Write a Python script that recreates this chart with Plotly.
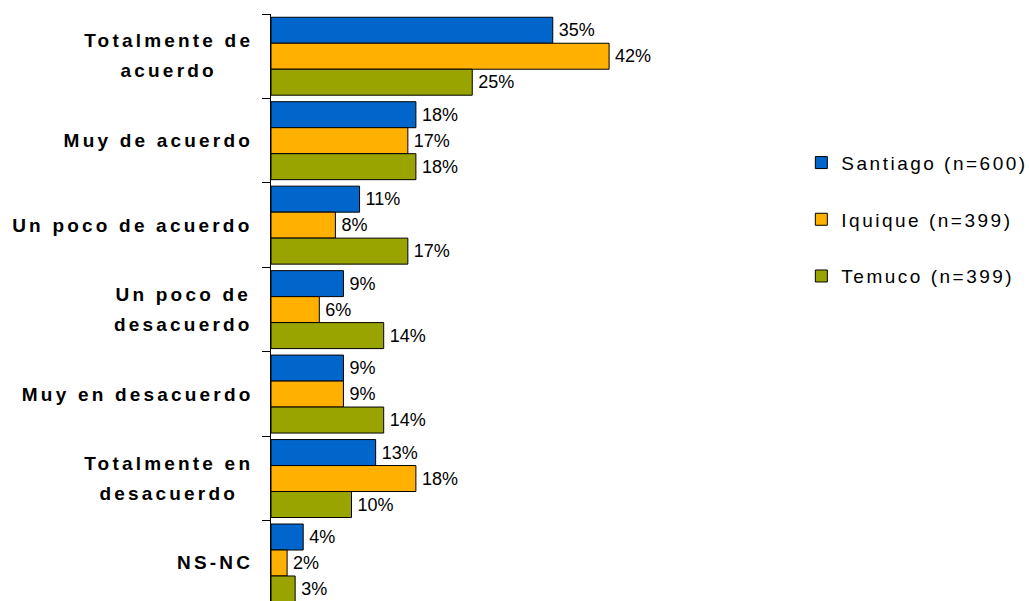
import plotly.graph_objects as go

categories = ["Totalmente de<br>acuerdo", "Muy de acuerdo", "Un poco de acuerdo",
              "Un poco de<br>desacuerdo", "Muy en desacuerdo",
              "Totalmente en<br>desacuerdo", "NS-NC"]
series_names = ["Santiago (n=600)", "Iquique (n=399)", "Temuco (n=399)"]
santiago = [35, 18, 11, 9, 9, 13, 4]
iquique = [42, 17, 8, 6, 9, 18, 2]
temuco = [25, 18, 17, 14, 14, 10, 3]
series_values = [santiago, iquique, temuco]
colors = ["#0066CC", "#FFB000", "#99A400"]

FONT = "Liberation Sans, Arial, sans-serif"
LABEL_SIZE = 19
LABEL_SPACING = 3.2  # px letter spacing of category labels

fig = go.Figure()
for name, vals, col in zip(series_names, series_values, colors):
    fig.add_trace(go.Bar(
        y=categories, x=vals, name=name, orientation="h",
        marker=dict(color=col, line=dict(color="#000000", width=1)),
        texttemplate="%{x}%", textposition="outside", cliponaxis=False,
        constraintext="none",
        textfont=dict(family=FONT, size=18, color="#000000"),
        legendgroup=name, hoverinfo="skip",
    ))

annotations = []
for cat in categories:
    lines = cat.split("<br>")
    nmax = max(len(l) for l in lines)
    annotations.append(dict(
        text="<b>" + cat + "</b>", xref="paper", yref="y", x=0, y=cat,
        xanchor="right", yanchor="middle", align="center", showarrow=False,
        xshift=-19 - (nmax * LABEL_SPACING / 2 - LABEL_SPACING),
        font=dict(family=FONT, size=LABEL_SIZE, color="#000000"),
    ))

fig.update_layout(
    width=1029, height=601, autosize=False,
    margin=dict(l=271, r=275, t=14, b=0, pad=0, autoexpand=False),
    paper_bgcolor="white", plot_bgcolor="white",
    barmode="group", bargap=0.077, bargroupgap=0,
    font=dict(family=FONT, color="#000000"),
    showlegend=True,
    legend=dict(x=1.098, y=0.779, xanchor="left", yanchor="top",
                traceorder="grouped", tracegroupgap=29,
                font=dict(family=FONT, size=19, color="#000000"),
                bgcolor="rgba(0,0,0,0)"),
    annotations=annotations,
)
fig.update_xaxes(range=[0, 60], visible=False, showgrid=False, zeroline=False)
fig.update_yaxes(range=[6.45, -0.5], showticklabels=False, showgrid=False,
                 zeroline=False, showline=True, linecolor="#000000", linewidth=1,
                 ticks="outside", tickson="boundaries", ticklen=8,
                 tickcolor="#000000", tickwidth=1)

post = """
document.body.style.margin = '0';
document.body.style.overflow = 'hidden';
var gd = document.getElementById('{plot_id}');
var LS = %s, LH = 1.58;
gd.querySelectorAll('g.annotation text.annotation-text').forEach(function(t){
  t.style.letterSpacing = LS + 'px';
  var lines = t.querySelectorAll('tspan.line');
  var n = lines.length;
  if (n > 1) {
    lines.forEach(function(ts, i){
      ts.setAttribute('dy', ((i - (n-1)/2) * LH + (n-1)/2*1.3) + 'em');
    });
  }
});
gd.querySelectorAll('g.legend text.legendtext').forEach(function(t){
  t.style.letterSpacing = '2.5px';
});
gd.querySelectorAll('g.legend [clip-path]').forEach(function(s){
  s.removeAttribute('clip-path');
});
gd.querySelectorAll('text.bartext').forEach(function(t){
  var tr = t.getAttribute('transform') || '';
  t.setAttribute('transform', 'translate(3,0) ' + tr);
});
""" % LABEL_SPACING

fig.write_html("out.html", post_script=post,
               config={"displayModeBar": False, "staticPlot": True})
